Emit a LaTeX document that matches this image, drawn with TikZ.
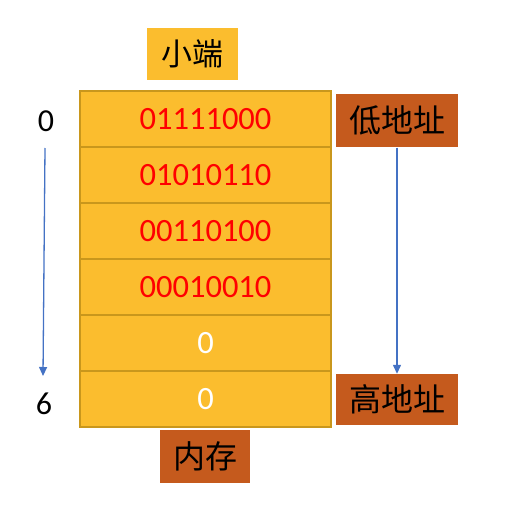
\documentclass[tikz,border=0pt]{standalone}
\usepackage{fontspec}
\setmainfont{Carlito}
\newfontfamily\cjk{Noto Sans CJK SC}
\usetikzlibrary{arrows.meta}
\definecolor{gold}{HTML}{FBBD2E}
\definecolor{goldline}{HTML}{C9971C}
\definecolor{rust}{HTML}{C55A1D}
\definecolor{arrowblue}{HTML}{4472C4}
\begin{document}
\begin{tikzpicture}[x=1pt,y=-1pt,
  cell/.style={draw=goldline,line width=1.5pt,fill=gold,minimum width=251pt,minimum height=56pt,inner sep=0pt,font=\fontsize{32.5}{32.5}\selectfont},
  tag/.style={fill=rust,inner sep=0pt,minimum height=53pt,font=\cjk\fontsize{32}{32}\selectfont},
  arr/.style={draw=arrowblue,line width=1.3pt,-{Triangle[length=9pt,width=8pt]}},
  idx/.style={font=\fontsize{32}{32}\selectfont}]
\useasboundingbox (0,0) rectangle (512,514);
\node[cell,text=red] (r0) at (205.5,119) {01111000};
\node[cell,text=red] (r1) at (205.5,175) {01010110};
\node[cell,text=red] (r2) at (205.5,231) {00110100};
\node[cell,text=red] (r3) at (205.5,287) {00010010};
\node[cell,text=white] (r4) at (205.5,343) {0};
\node[cell,text=white] (r5) at (205.5,399) {0};
\node[fill=gold,inner sep=0pt,minimum width=91pt,minimum height=52pt,font=\cjk\fontsize{31}{31}\selectfont] (title) at (192.5,54) {小端};
\node[tag,minimum width=122pt] (low) at (397,120) {低地址};
\node[tag,minimum width=122pt,minimum height=51pt] (high) at (397,399.5) {高地址};
\node[tag,minimum width=90pt] (mem) at (205,456) {内存};
\node[idx] (i0) at (46,121) {0};
\node[idx] (i6) at (44,404) {6};
\coordinate (a0) at (45,148);
\coordinate (a1) at (43,376);
\draw[arr] (a0) -- (a1);
\draw[arr] (low.south -| 397,0) ++(0,1) -- (high.north);
\end{tikzpicture}
\end{document}
